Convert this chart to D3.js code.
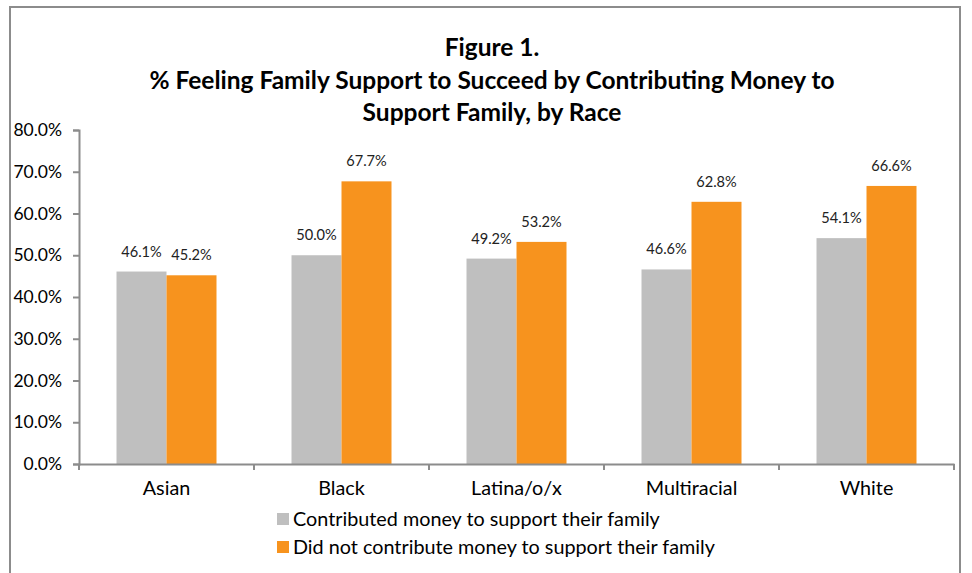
<!DOCTYPE html>
<html>
<head>
<meta charset="utf-8">
<script src="https://cdn.jsdelivr.net/npm/d3@7.9.0/dist/d3.min.js"></script>
<style>
  html, body { margin: 0; padding: 0; background: #fff; }
  svg { display: block; font-family: Lato, "Open Sans", sans-serif; }
</style>
</head>
<body>
<svg id="chart" width="972" height="573"></svg>
<script>
const races = ['Asian', 'Black', 'Latina/o/x', 'Multiracial', 'White'];
const contributed = [46.1, 50.0, 49.2, 46.6, 54.1];
const notContributed = [45.2, 67.7, 53.2, 62.8, 66.6];
const seriesNames = [
  'Contributed money to support their family',
  'Did not contribute money to support their family'
];
const yTicks = [0, 10, 20, 30, 40, 50, 60, 70, 80];
const titleLines = [
  'Figure 1.',
  '% Feeling Family Support to Succeed by Contributing Money to',
  'Support Family, by Race'
];

const colors = ['#bfbfbf', '#f7931e'];

const svg = d3.select('#chart');

// outer frame (bottom edge falls off the picture)
svg.append('path')
  .attr('d', 'M10,580 V7 H960 V580')
  .attr('fill', 'none')
  .attr('stroke', '#8c8c8c')
  .attr('stroke-width', 2);

const x = d3.scaleBand().domain(races).range([79, 954]);
const inner = d3.scaleBand().domain([0, 1]).range([0, 100]);
const y = d3.scaleLinear().domain([0, 80]).range([464, 130]);

// title
svg.append('g')
  .selectAll('text')
  .data(titleLines)
  .join('text')
  .attr('x', 492)
  .attr('y', (d, i) => 56 + i * 32.5)
  .attr('text-anchor', 'middle')
  .attr('font-size', 24.5)
  .attr('font-weight', 'bold')
  .attr('fill', '#000')
  .text((d) => d);

// bars
const groups = svg.append('g')
  .selectAll('g')
  .data(races)
  .join('g')
  .attr('transform', (d) => `translate(${x(d) + (x.bandwidth() - 100) / 2},0)`);

groups.selectAll('rect')
  .data((d, i) => [contributed[i], notContributed[i]])
  .join('rect')
  .attr('x', (d, j) => inner(j))
  .attr('y', (d) => y(d))
  .attr('width', inner.bandwidth())
  .attr('height', (d) => y(0) - y(d))
  .attr('fill', (d, j) => colors[j]);

groups.selectAll('text')
  .data((d, i) => [contributed[i], notContributed[i]])
  .join('text')
  .attr('x', (d, j) => inner(j) + inner.bandwidth() / 2)
  .attr('y', (d) => y(d) - 15)
  .attr('text-anchor', 'middle')
  .attr('font-size', 14.6)
  .attr('fill', '#222')
  .text((d) => d.toFixed(1) + '%');

// y axis
const yAxis = svg.append('g')
  .attr('transform', 'translate(79,0)')
  .call(d3.axisLeft(y).tickValues(yTicks).tickSize(6).tickPadding(11)
    .tickFormat((d) => d.toFixed(1) + '%'));
yAxis.select('.domain').attr('stroke', '#8c8c8c').attr('stroke-width', 2);
yAxis.selectAll('.tick line').attr('stroke', '#8c8c8c').attr('stroke-width', 2);
yAxis.selectAll('.tick text')
  .attr('font-size', 17.5)
  .attr('font-family', 'Lato, "Open Sans", sans-serif')
  .attr('fill', '#000');

// x axis
const xAxis = svg.append('g')
  .attr('transform', 'translate(0,464)')
  .call(d3.axisBottom(x).tickSize(0).tickPadding(17));
xAxis.select('.domain').attr('stroke', '#8c8c8c').attr('stroke-width', 2);
xAxis.selectAll('.tick text')
  .attr('font-size', 19.8)
  .attr('font-family', 'Lato, "Open Sans", sans-serif')
  .attr('fill', '#000');

// category separators on the x axis
svg.append('g')
  .selectAll('line')
  .data(races.map((d) => x(d)).concat([x.range()[1]]))
  .join('line')
  .attr('x1', (d) => d)
  .attr('x2', (d) => d)
  .attr('y1', 464)
  .attr('y2', 470)
  .attr('stroke', '#8c8c8c')
  .attr('stroke-width', 2);

// legend
const legend = svg.append('g')
  .selectAll('g')
  .data(seriesNames)
  .join('g')
  .attr('transform', (d, i) => `translate(277,${513 + i * 28})`);

legend.append('rect')
  .attr('width', 12)
  .attr('height', 12)
  .attr('fill', (d, i) => colors[i]);

legend.append('text')
  .attr('x', 16)
  .attr('y', 6)
  .attr('dy', '0.35em')
  .attr('font-size', 19.8)
  .attr('fill', '#000')
  .text((d) => d);
</script>
</body>
</html>
